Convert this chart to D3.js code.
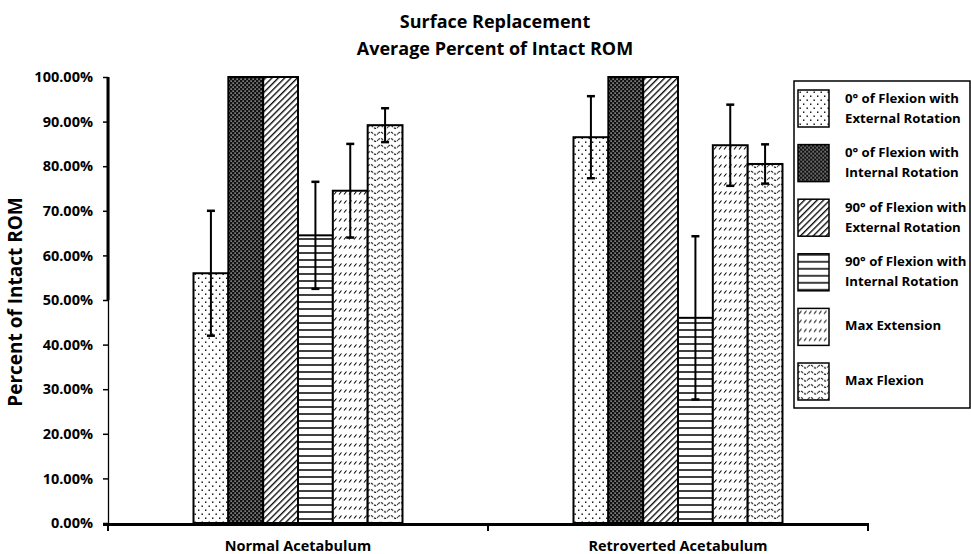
<!DOCTYPE html>
<html>
<head>
<meta charset="utf-8">
<script src="https://cdn.jsdelivr.net/npm/d3@7"></script>
<style>
  html, body { margin: 0; padding: 0; background: #fff; }
  svg { display: block; }
  text { font-family: "Open Sans", "Liberation Sans", sans-serif; font-weight: bold; fill: #000; }
</style>
</head>
<body>
<svg id="chart" width="971" height="554"></svg>
<script>
// ---------- data ----------
const categories = ["Normal Acetabulum", "Retroverted Acetabulum"];
const seriesNames = [
  "0° of Flexion with External Rotation",
  "0° of Flexion with Internal Rotation",
  "90° of Flexion with External Rotation",
  "90° of Flexion with Internal Rotation",
  "Max Extension",
  "Max Flexion"
];
const legendLines = [
  ["0° of Flexion with", "External Rotation"],
  ["0° of Flexion with", "Internal Rotation"],
  ["90° of Flexion with", "External Rotation"],
  ["90° of Flexion with", "Internal Rotation"],
  ["Max Extension"],
  ["Max Flexion"]
];
const flex0ExtRot   = [0.560, 0.865];
const flex0IntRot   = [1.000, 1.000];
const flex90ExtRot  = [1.000, 1.000];
const flex90IntRot  = [0.645, 0.460];
const maxExtension  = [0.745, 0.847];
const maxFlexion    = [0.892, 0.805];
const flex0ExtRotErr  = [0.140, 0.092];
const flex0IntRotErr  = [0, 0];
const flex90ExtRotErr = [0, 0];
const flex90IntRotErr = [0.120, 0.183];
const maxExtensionErr = [0.105, 0.091];
const maxFlexionErr   = [0.038, 0.044];
const yTicks = [0, 0.1, 0.2, 0.3, 0.4, 0.5, 0.6, 0.7, 0.8, 0.9, 1.0];
const titleLines = ["Surface Replacement", "Average Percent of Intact ROM"];
const yTitle = "Percent of Intact ROM";

const seriesValues = [flex0ExtRot, flex0IntRot, flex90ExtRot, flex90IntRot, maxExtension, maxFlexion];
const seriesErrors = [flex0ExtRotErr, flex0IntRotErr, flex90ExtRotErr, flex90IntRotErr, maxExtensionErr, maxFlexionErr];

// ---------- layout ----------
const svg = d3.select("#chart");
const plot = { left: 108, right: 868, top: 77, bottom: 523 };
const groupWidth = 209;

const x = d3.scaleBand().domain(categories).range([plot.left, plot.right]);
const xs = d3.scaleBand().domain(d3.range(seriesNames.length)).range([-groupWidth / 2, groupWidth / 2]);
const y = d3.scaleLinear().domain([0, 1]).range([plot.bottom, plot.top]);

// ---------- patterns ----------
const defs = svg.append("defs");
const patIds = ["pDots", "pDense", "pDiag", "pHoriz", "pDash", "pWave"];

// 0: sparse dots
let p = defs.append("pattern").attr("id", "pDots").attr("patternUnits", "userSpaceOnUse").attr("width", 7).attr("height", 8);
p.append("rect").attr("width", 7).attr("height", 8).attr("fill", "#fff");
p.append("rect").attr("x", 1.5).attr("y", 1.5).attr("width", 1.4).attr("height", 1.4).attr("fill", "#000");
p.append("rect").attr("x", 5).attr("y", 5.5).attr("width", 1.4).attr("height", 1.4).attr("fill", "#000");

// 1: dense dark
p = defs.append("pattern").attr("id", "pDense").attr("patternUnits", "userSpaceOnUse").attr("width", 4).attr("height", 4);
p.append("rect").attr("width", 4).attr("height", 4).attr("fill", "#111");
p.append("rect").attr("x", 0.5).attr("y", 0.5).attr("width", 1.2).attr("height", 1.2).attr("fill", "#eee");
p.append("rect").attr("x", 2.5).attr("y", 2.5).attr("width", 1.2).attr("height", 1.2).attr("fill", "#eee");

// 2: diagonal hatch
p = defs.append("pattern").attr("id", "pDiag").attr("patternUnits", "userSpaceOnUse").attr("width", 4.5).attr("height", 4.5)
  .attr("patternTransform", "rotate(45)");
p.append("rect").attr("width", 4.5).attr("height", 4.5).attr("fill", "#fff");
p.append("line").attr("x1", 0.7).attr("y1", 0).attr("x2", 0.7).attr("y2", 4.5).attr("stroke", "#000").attr("stroke-width", 1.3);

// 3: horizontal lines
p = defs.append("pattern").attr("id", "pHoriz").attr("patternUnits", "userSpaceOnUse").attr("width", 10).attr("height", 7);
p.append("rect").attr("width", 10).attr("height", 7).attr("fill", "#fff");
p.append("line").attr("x1", 0).attr("y1", 1).attr("x2", 10).attr("y2", 1).attr("stroke", "#000").attr("stroke-width", 1.5);

// 4: short diagonal dashes in rows
p = defs.append("pattern").attr("id", "pDash").attr("patternUnits", "userSpaceOnUse").attr("width", 5).attr("height", 9);
p.append("rect").attr("width", 5).attr("height", 9).attr("fill", "#fff");
p.append("line").attr("x1", 1).attr("y1", 5.5).attr("x2", 3.5).attr("y2", 2.5).attr("stroke", "#000").attr("stroke-width", 1.1);

// 5: wavy
p = defs.append("pattern").attr("id", "pWave").attr("patternUnits", "userSpaceOnUse").attr("width", 10).attr("height", 6.5);
p.append("rect").attr("width", 10).attr("height", 6.5).attr("fill", "#fff");
p.append("path").attr("d", "M0,3.5 Q2.5,0.5 5,3.5 T10,3.5").attr("fill", "none").attr("stroke", "#000").attr("stroke-width", 1)
  .attr("stroke-dasharray", "2.5,1");

// ---------- title ----------
svg.append("g").selectAll("text").data(titleLines).join("text")
  .attr("x", 495).attr("y", (d, i) => 28 + i * 27)
  .attr("text-anchor", "middle").attr("font-size", 18).text(d => d);

// ---------- y axis ----------
const yAxis = svg.append("g").attr("transform", `translate(${plot.left},0)`)
  .call(d3.axisLeft(y).tickValues(yTicks).tickFormat(d3.format(".2%")).tickSize(5).tickSizeOuter(0).tickPadding(10));
yAxis.select(".domain").attr("stroke", "#000").attr("stroke-width", 1.3);
yAxis.selectAll(".tick line").attr("stroke", "#000").attr("stroke-width", 1.5);
yAxis.selectAll(".tick text").attr("font-size", 14.5).attr("font-family", "Open Sans, sans-serif").attr("font-weight", "bold").attr("fill", "#000");
// thicker upper portion of axis line (as scanned)
svg.append("line").attr("x1", plot.left).attr("x2", plot.left).attr("y1", y(1)).attr("y2", y(0.5))
  .attr("stroke", "#000").attr("stroke-width", 3);

svg.append("text").attr("transform", `translate(22,${(plot.top + plot.bottom) / 2 + 2}) rotate(-90)`)
  .attr("text-anchor", "middle").attr("font-size", 19).text(yTitle);

// ---------- bars ----------
const groups = svg.append("g").selectAll("g").data(categories).join("g")
  .attr("transform", d => `translate(${x(d) + x.bandwidth() / 2},0)`);

groups.each(function(cat, ci) {
  const g = d3.select(this);
  const rows = seriesNames.map((s, si) => ({ si, v: seriesValues[si][ci], e: seriesErrors[si][ci] }));
  g.selectAll("rect").data(rows).join("rect")
    .attr("x", d => xs(d.si)).attr("width", xs.bandwidth())
    .attr("y", d => y(d.v)).attr("height", d => y(0) - y(d.v))
    .attr("fill", d => `url(#${patIds[d.si]})`)
    .attr("stroke", "#000").attr("stroke-width", 2);
  const eb = rows.filter(d => d.e > 0);
  const cx = d => xs(d.si) + xs.bandwidth() / 2;
  g.selectAll("line.stem").data(eb).join("line").attr("class", "stem")
    .attr("x1", cx).attr("x2", cx).attr("y1", d => y(d.v + d.e)).attr("y2", d => y(d.v - d.e))
    .attr("stroke", "#000").attr("stroke-width", 2);
  g.selectAll("line.capT").data(eb).join("line").attr("class", "capT")
    .attr("x1", d => cx(d) - 4).attr("x2", d => cx(d) + 4).attr("y1", d => y(d.v + d.e)).attr("y2", d => y(d.v + d.e))
    .attr("stroke", "#000").attr("stroke-width", 2.5);
  g.selectAll("line.capB").data(eb).join("line").attr("class", "capB")
    .attr("x1", d => cx(d) - 4).attr("x2", d => cx(d) + 4).attr("y1", d => y(d.v - d.e)).attr("y2", d => y(d.v - d.e))
    .attr("stroke", "#000").attr("stroke-width", 2.5);
});

// ---------- x axis ----------
const xAxis = svg.append("g").attr("transform", `translate(0,${plot.bottom + 1.5})`)
  .call(d3.axisBottom(x).tickSize(0).tickPadding(16));
xAxis.select(".domain").remove();
xAxis.selectAll(".tick text").attr("font-size", 14.5).attr("font-family", "Open Sans, sans-serif").attr("font-weight", "bold").attr("fill", "#000");
svg.append("line").attr("x1", plot.left - 5).attr("x2", plot.right).attr("y1", plot.bottom + 1.5).attr("y2", plot.bottom + 1.5)
  .attr("stroke", "#000").attr("stroke-width", 3);
const boundaries = categories.map(c => x(c)).concat([x(categories[categories.length - 1]) + x.bandwidth()]);
svg.append("g").selectAll("line").data(boundaries).join("line")
  .attr("x1", d => d).attr("x2", d => d).attr("y1", plot.bottom).attr("y2", plot.bottom + 8)
  .attr("stroke", "#000").attr("stroke-width", 2);

// ---------- legend ----------
const legend = svg.append("g");
legend.append("rect").attr("x", 794).attr("y", 81).attr("width", 176).attr("height", 327)
  .attr("fill", "#fff").attr("stroke", "#000").attr("stroke-width", 1.5);
const ly = d3.scalePoint().domain(d3.range(seriesNames.length)).range([90, 363]);
const items = legend.selectAll("g.item").data(seriesNames).join("g").attr("class", "item")
  .attr("transform", (d, i) => `translate(798,${ly(i)})`);
items.append("rect").attr("width", 31).attr("height", 37)
  .attr("fill", (d, i) => `url(#${patIds[i]})`).attr("stroke", "#000").attr("stroke-width", 1.5);
items.each(function(d, i) {
  const lines = legendLines[i];
  d3.select(this).selectAll("text").data(lines).join("text")
    .attr("x", 47)
    .attr("y", (t, k) => lines.length === 1 ? 17 : 8 + k * 20)
    .attr("dy", "0.35em").attr("font-size", 13.2).text(t => t);
});
</script>
</body>
</html>
